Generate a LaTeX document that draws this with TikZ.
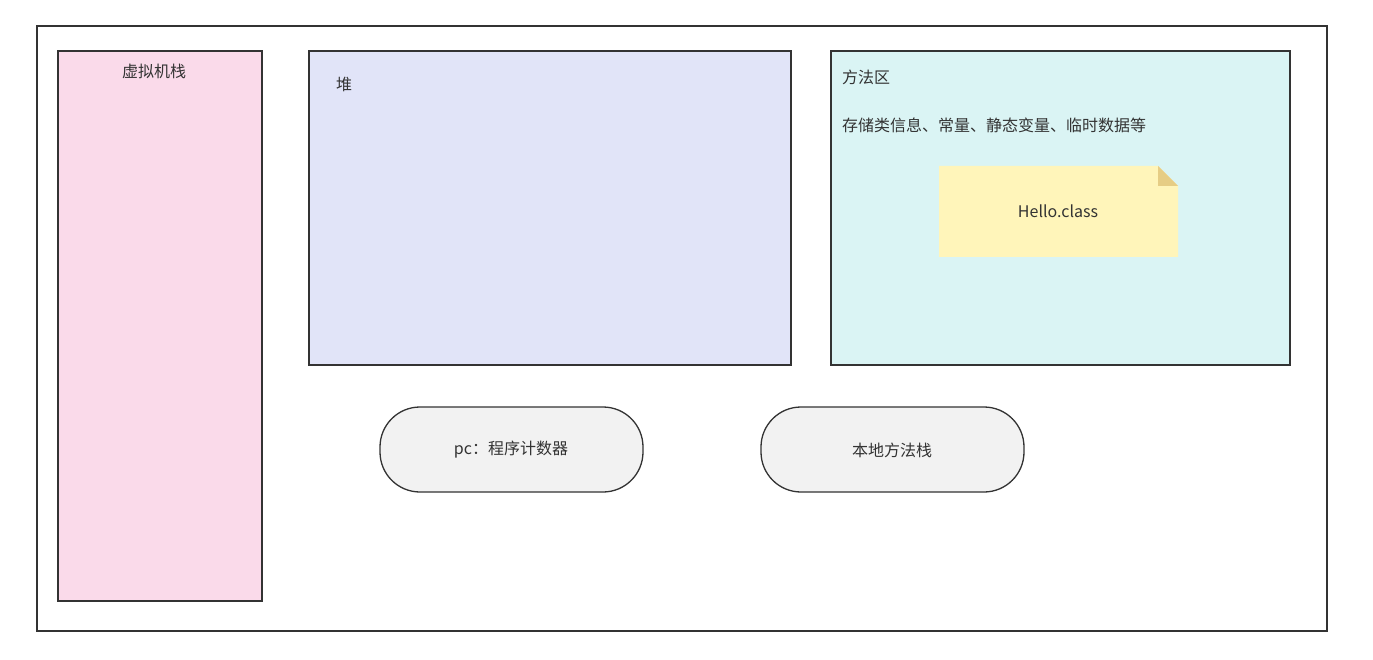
\documentclass[tikz,border=0pt]{standalone}
\usepackage{fontspec}
\setmainfont{Noto Sans CJK SC}
\definecolor{edge}{HTML}{333333}
\definecolor{txt}{HTML}{333333}
\definecolor{pinkf}{HTML}{FADAEA}
\definecolor{heapf}{HTML}{E1E4F8}
\definecolor{methf}{HTML}{DAF4F4}
\definecolor{notef}{HTML}{FFF5BA}
\definecolor{foldf}{HTML}{E6CD85}
\definecolor{pillf}{HTML}{F2F2F2}
\begin{document}
\begin{tikzpicture}[x=1pt,y=-1pt,
  box/.style={draw=edge,line width=1.3pt},
  lbl/.style={text=txt,inner sep=0pt,font=\fontsize{16}{18}\selectfont},
  pill/.style={draw=edge,line width=1.3pt,fill=pillf,rounded corners=40pt}]
\useasboundingbox (0,0) rectangle (1373,660);
\draw[box,fill=white] (37,26) rectangle (1327,631);
% virtual machine stack
\draw[box,fill=pinkf] (58,51) rectangle (262,601);
\node[lbl] (vms) at (154,71) {虚拟机栈};
% heap
\draw[box,fill=heapf] (309,51) rectangle (791,365);
\node[lbl] (heap) at (344,84) {堆};
% method area
\draw[box,fill=methf] (831,51) rectangle (1290,365);
\node[lbl,anchor=west] (ma) at (842,77) {方法区};
\node[lbl,anchor=west] (mad) at (842,125) {存储类信息、常量、静态变量、临时数据等};
% note
\fill[notef] (939,166) -- (1158,166) -- (1178,186) -- (1178,257) -- (939,257) -- cycle;
\fill[foldf] (1158,166) -- (1178,186) -- (1158,186) -- cycle;
\node[lbl,font=\fontsize{16}{18}\selectfont] (note) at (1058,211) {Hello.class};
% pills
\draw[pill] (380,407) rectangle (643,492);
\node[lbl] (pc) at (511,450) {pc：程序计数器};
\draw[pill] (761,407) rectangle (1024,492);
\node[lbl] (nms) at (892,450) {本地方法栈};
\end{tikzpicture}
\end{document}
